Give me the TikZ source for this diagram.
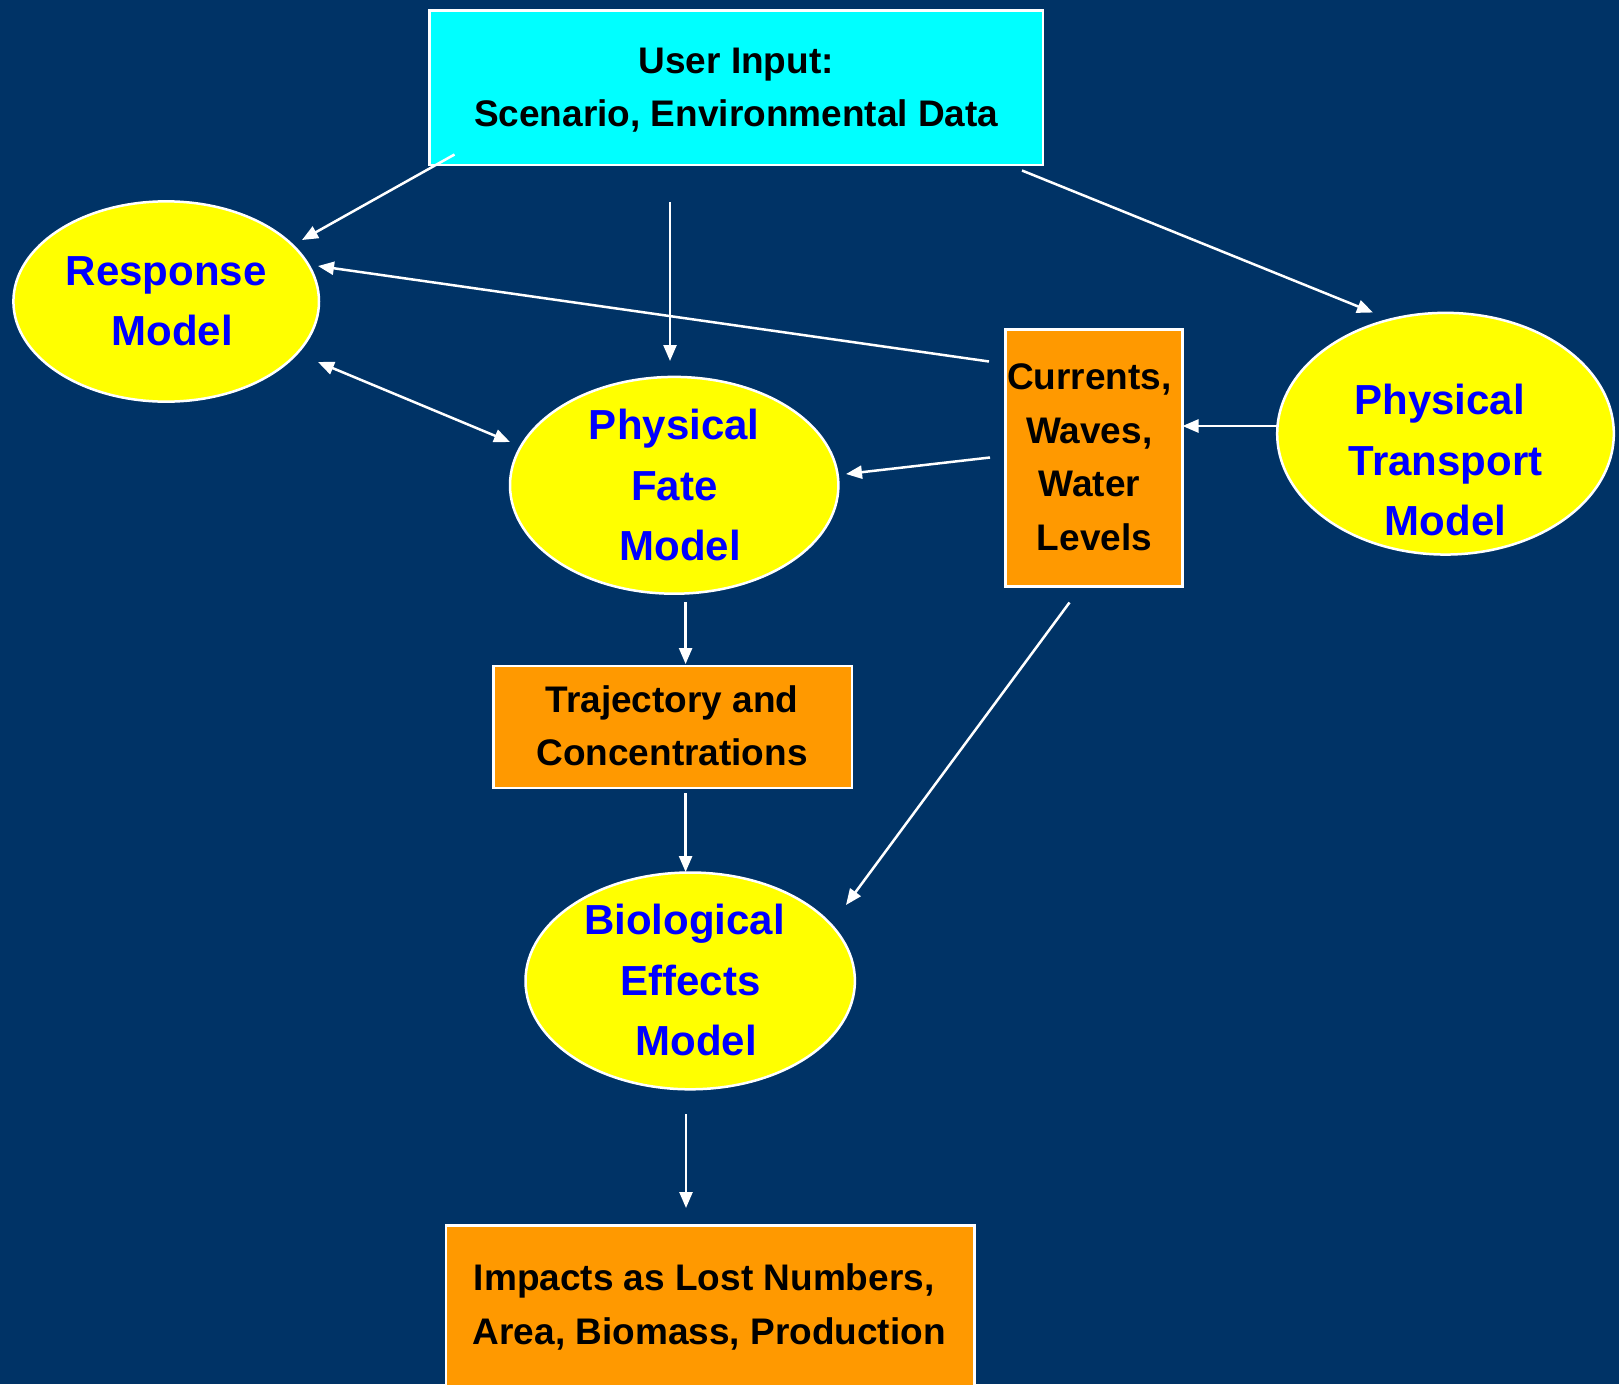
\documentclass[tikz,border=0pt]{standalone}
\usepackage{fontspec}
\setmainfont{Liberation Sans}
\usetikzlibrary{shapes.geometric,arrows.meta}
\definecolor{bgblue}{RGB}{0,51,102}
\definecolor{cyanbox}{RGB}{0,255,255}
\definecolor{yellowell}{RGB}{255,255,0}
\definecolor{orangebox}{RGB}{255,153,0}
\definecolor{textblue}{RGB}{0,0,255}
\newcommand{\gapw}[1]{\rule{#1}{0pt}}
\begin{document}
\begin{tikzpicture}[x=1pt,y=-1pt,
  boxshape/.style={draw=white, line width=2.5pt, rectangle, inner sep=0pt},
  ellshape/.style={draw=white, line width=2.5pt, ellipse, inner sep=0pt, fill=yellowell},
  blacktext/.style={font=\bfseries\fontsize{37}{53.7}\selectfont, align=center, text=black, inner sep=0pt},
  bluetext/.style={font=\bfseries\fontsize{42}{60.5}\selectfont, align=center, text=textblue, inner sep=0pt},
  arr/.style={draw=white, line width=2.5pt, -{Triangle[length=16pt,width=13pt]}},
  darr/.style={draw=white, line width=2.5pt, {Triangle[length=16pt,width=13pt]}-{Triangle[length=16pt,width=13pt]}}
]
\fill[bgblue] (0,0) rectangle (1619,1384);
\useasboundingbox (0,0) rectangle (1619,1384);

% shapes
\node[boxshape, fill=cyanbox, minimum width=613.3pt, minimum height=154.9pt] (ui) at (736.1,87.7) {};
\node[ellshape, minimum width=305.6pt, minimum height=200.3pt] (resp) at (166.2,301.5) {};
\node[ellshape, minimum width=328.4pt, minimum height=216.8pt] (fate) at (674.2,485.3) {};
\node[boxshape, fill=orangebox, minimum width=177pt, minimum height=257.4pt] (cur) at (1094.2,458) {};
\node[ellshape, minimum width=336.6pt, minimum height=241.7pt] (trans) at (1445.5,433.7) {};
\node[boxshape, fill=orangebox, minimum width=358.3pt, minimum height=121.8pt] (traj) at (672.7,726.9) {};
\node[ellshape, minimum width=329.4pt, minimum height=216.8pt] (bio) at (690.2,980.9) {};
\node[boxshape, fill=orangebox, minimum width=528.7pt, minimum height=170pt] (imp) at (710.35,1310.6) {};

% texts
\node[blacktext] (uiT) at (736.2,90.2) {User Input:\\Scenario, Environmental Data};
\node[bluetext] (respT) at (166.2,301.5) {Response\\\gapw{0.28em}Model};
\node[bluetext] (fateT) at (674.2,485.3) {Physical\\Fate\\\gapw{0.28em}Model};
\node[blacktext] (curT) at (1089.3,457.3) {Currents,\\Waves,\\Water\\\gapw{0.28em}Levels};
\node[bluetext] (transT) at (1445.5,460) {Physical\gapw{0.28em}\\Transport\\Model};
\node[blacktext] (trajT) at (672,725.9) {Trajectory and\\Concentrations};
\node[bluetext] (bioT) at (684.5,980.4) {Biological\\\gapw{0.28em}Effects\\\gapw{0.56em}Model};
\node[blacktext] (impT) at (709.3,1307) {Impacts as Lost Numbers,\gapw{0.28em}\\Area, Biomass, Production};

% connector end points
\coordinate (a1s) at (454.5,154.5);
\coordinate (a1e) at (302,240);
\coordinate (a2s) at (670,202);
\coordinate (a2e) at (670,361);
\coordinate (a3s) at (1022,170.5);
\coordinate (a3e) at (1373,312.5);
\coordinate (a4s) at (989,361.5);
\coordinate (a4e) at (318,266);
\coordinate (a5a) at (318,362);
\coordinate (a5b) at (510,442);
\coordinate (a6s) at (990,457.5);
\coordinate (a6e) at (846,474);
\coordinate (a7s) at (1277,426);
\coordinate (a7e) at (1182.5,426);
\coordinate (a8s) at (685.6,602);
\coordinate (a8e) at (685.6,664);
\coordinate (a9s) at (685.6,793);
\coordinate (a9e) at (685.6,872);
\coordinate (a10s) at (1069.5,602.5);
\coordinate (a10e) at (846,905);
\coordinate (a11s) at (686,1114);
\coordinate (a11e) at (686,1208);

\draw[arr] (a1s) -- (a1e);
\draw[arr] (a2s) -- (a2e);
\draw[arr] (a3s) -- (a3e);
\draw[arr] (a4s) -- (a4e);
\draw[darr] (a5a) -- (a5b);
\draw[arr] (a6s) -- (a6e);
\draw[arr] (a7s) -- (a7e);
\draw[arr] (a8s) -- (a8e);
\draw[arr] (a9s) -- (a9e);
\draw[arr] (a10s) -- (a10e);
\draw[arr] (a11s) -- (a11e);
\end{tikzpicture}
\end{document}
